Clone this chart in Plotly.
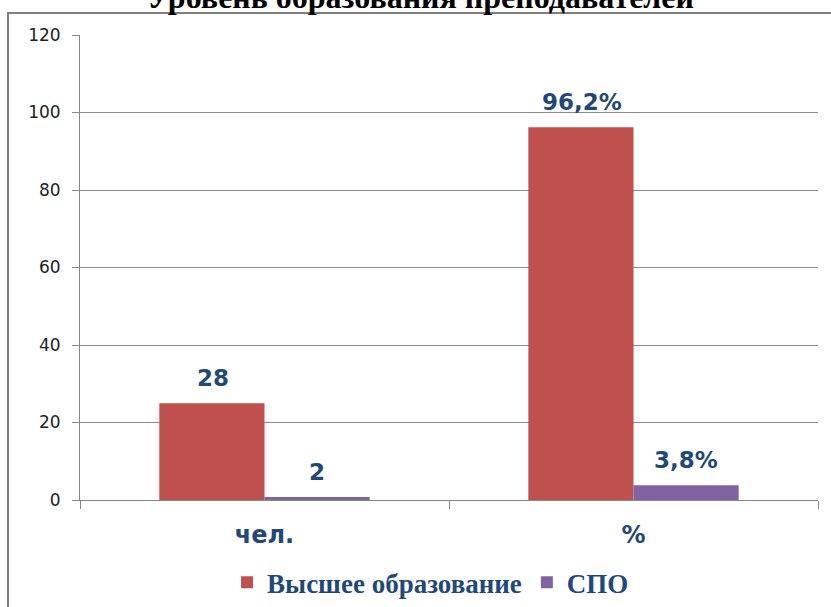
import plotly.graph_objects as go

categories = ["чел.", "%"]
series_names = ["Высшее образование", "СПО"]
higher_values = [25, 96.2]
spo_values = [0.8, 3.8]
higher_labels = ["28", "96,2%"]
spo_labels = ["2", "3,8%"]
y_ticks = [0, 20, 40, 60, 80, 100, 120]
title_text = "Уровень образования преподавателей"

RED = "#C0504D"
PURPLE = "#8064A2"
LABEL = "#1F497D"

L, R, T, B = 80, 13, 35, 107
PW = 831 - L - R

fig = go.Figure()
fig.add_trace(go.Bar(name=series_names[0], x=categories, y=higher_values,
                     marker=dict(color=RED, line=dict(width=0))))
fig.add_trace(go.Bar(name=series_names[1], x=categories, y=spo_values,
                     marker=dict(color=PURPLE, line=dict(width=0))))

anns = []
for vals, labs, shift in ((higher_values, higher_labels, -52), (spo_values, spo_labels, 52)):
    for c, v, t in zip(categories, vals, labs):
        anns.append(dict(x=c, y=v, text=t, showarrow=False, xref="x", yref="y",
                         xshift=shift, yshift=25, yanchor="middle",
                         font=dict(family="DejaVu Sans", size=23, color=LABEL, weight="bold")))
anns.append(dict(x=(420 - L) / PW, y=1, xref="paper", yref="paper", showarrow=False,
                 text="<b>" + title_text + "</b>", xanchor="center", yanchor="middle",
                 yshift=T + 3,
                 font=dict(family="Liberation Serif", size=32, color="black")))

fig.update_layout(
    width=831, height=607,
    margin=dict(l=L, r=R, t=T, b=B, autoexpand=False),
    paper_bgcolor="white", plot_bgcolor="white",
    barmode="group", bargap=0.43, bargroupgap=0,
    annotations=anns,
    showlegend=True,
    legend=dict(orientation="h", x=0.475, xanchor="center", y=-0.178, yanchor="middle",
                font=dict(family="Liberation Serif", size=27, color=LABEL, weight="bold"),
                itemwidth=30, bgcolor="rgba(0,0,0,0)"),
    xaxis=dict(showline=True, linecolor="#888888", linewidth=1, ticks="outside",
               tickson="boundaries", ticklen=8, tickcolor="#888888",
               ticklabelstandoff=13, automargin=False,
               tickfont=dict(family="DejaVu Sans", size=24, color=LABEL, weight="bold")),
    yaxis=dict(range=[0, 120], tickvals=y_ticks, showgrid=True, gridcolor="#8C8C8C",
               gridwidth=1, showline=True, linecolor="#888888", linewidth=1,
               ticks="outside", ticklen=7, tickcolor="#888888", zeroline=False,
               automargin=False, ticklabelstandoff=8,
               tickfont=dict(family="DejaVu Sans", size=17, color="#222222")),
    shapes=[dict(type="rect", xref="paper", yref="paper",
                 x0=(8 - L) / PW, x1=1.05, y0=-0.3, y1=(500 - 13) / 465,
                 line=dict(color="#7F7F7F", width=2), layer="below")],
)

fig.write_html("out.html", config={"displayModeBar": False},
               post_script="document.body.style.margin='0';")
